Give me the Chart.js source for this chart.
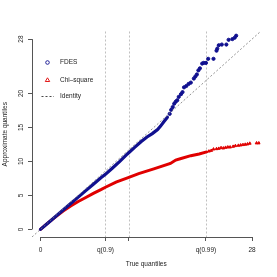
<!DOCTYPE html>
<html>
<head>
<meta charset="utf-8">
<script src="https://cdn.jsdelivr.net/npm/chart.js@4"></script>
<style>
  html, body { margin: 0; padding: 0; background: #fff; }
  canvas { display: block; }
</style>
</head>
<body>
<canvas id="qq" width="277" height="277" style="width:277px;height:277px"></canvas>
<script>
// Axis ticks (true quantiles on x, approximate quantiles on y)
const xTicks = [0, 8.6, 11.7, 21.9, 28];
const xTickLabels = ['0', 'q(0.9)', '', 'q(0.99)', '28'];
const yTicks = [0, 5, 10, 15, 20, 28];
const qLines = [8.6, 11.7, 21.9]; // dashed reference quantiles

// FDES: dense body of the curve + sparse upper tail
const fdesX = [0, 1, 2, 3, 4, 5, 6, 7, 8, 8.6, 9.5, 10.5, 11.5, 12.5, 13.3, 14.1, 14.8, 15.5, 15.9, 16.3, 16.8];
const fdesY = [0, 0.95, 1.9, 2.85, 3.8, 4.75, 5.7, 6.65, 7.6, 8.1, 9.0, 10.0, 11.1, 12.1, 12.9, 13.6, 14.1, 14.7, 15.2, 15.8, 16.5];
const fdesTailX = [17.1, 17.3, 17.5, 17.7, 17.9, 18.1, 18.3, 18.6, 18.8, 19.0, 19.3, 19.6, 19.9, 20.3, 20.5, 20.7, 20.9, 21.1, 21.4, 21.6, 21.9, 22.2, 22.9, 23.3, 23.4, 23.6, 24.0, 24.6, 24.9, 25.4, 25.7, 25.9];
const fdesTailY = [17.0, 17.6, 18.0, 18.5, 18.8, 19.0, 19.5, 19.9, 20.2, 20.9, 21.1, 21.4, 21.6, 22.2, 22.5, 22.8, 23.4, 23.7, 24.4, 24.5, 24.5, 25.1, 25.1, 26.3, 26.6, 27.1, 27.2, 27.2, 27.9, 28.0, 28.2, 28.5];

// Chi-square approximation
const chiX = [0, 1, 2, 3, 4, 5, 6, 7, 8, 8.6, 10, 11.7, 13, 15, 17.2, 17.9, 18.5, 19.9, 21, 22];
const chiY = [0, 0.95, 1.85, 2.7, 3.45, 4.1, 4.7, 5.3, 5.85, 6.2, 6.95, 7.65, 8.2, 8.9, 9.7, 10.2, 10.4, 10.85, 11.1, 11.4];
const chiTailX = [22.3, 22.6, 22.9, 23.3, 23.6, 23.9, 24.2, 24.5, 24.8, 25.1, 25.5, 25.8, 26.2, 26.5, 26.8, 27.1, 27.4, 27.7, 28.6, 28.9];
const chiTailY = [11.5, 11.6, 11.8, 11.85, 11.9, 12.0, 11.95, 12.05, 12.1, 12.1, 12.2, 12.3, 12.35, 12.4, 12.45, 12.5, 12.55, 12.65, 12.7, 12.7];

const BLUE = '#10108f';
const RED = '#e00000';
const FONT = '"Liberation Sans", Arial, sans-serif';

const pts = (xs, ys) => xs.map((x, i) => ({ x: x, y: ys[i] }));

// extras drawn R-style: axis lines, rotated y labels, titles, legend
const rStyle = {
    id: 'rStyle',
    beforeDatasetsDraw(chart) {
        const { ctx, chartArea, scales } = chart;
        ctx.save();
        ctx.strokeStyle = '#b0b0b0';
        ctx.lineWidth = 0.8;
        ctx.setLineDash([2, 2]);
        qLines.forEach(q => {
            const px = Math.round(scales.x.getPixelForValue(q)) + 0.5;
            ctx.beginPath();
            ctx.moveTo(px, chartArea.top);
            ctx.lineTo(px, chartArea.bottom);
            ctx.stroke();
        });
        ctx.restore();
    },
    afterDatasetsDraw(chart) {
        const { ctx, chartArea, scales } = chart;
        ctx.save();
        ctx.beginPath();
        ctx.rect(chartArea.left, chartArea.top, chartArea.right - chartArea.left, chartArea.bottom - chartArea.top);
        ctx.clip();
        ctx.strokeStyle = '#777';
        ctx.lineWidth = 0.8;
        ctx.setLineDash([2, 2]);
        ctx.beginPath();
        ctx.moveTo(scales.x.getPixelForValue(scales.x.min), scales.y.getPixelForValue(scales.x.min));
        ctx.lineTo(scales.x.getPixelForValue(scales.x.max), scales.y.getPixelForValue(scales.x.max));
        ctx.stroke();
        ctx.restore();
    },
    afterDraw(chart) {
        const { ctx, chartArea, scales } = chart;
        ctx.save();
        // axis lines between first and last tick
        ctx.strokeStyle = '#555';
        ctx.lineWidth = 1;
        const yb = Math.round(chartArea.bottom) + 0.5;
        const xl = Math.round(chartArea.left) + 0.5;
        ctx.beginPath();
        ctx.moveTo(scales.x.getPixelForValue(xTicks[0]), yb);
        ctx.lineTo(scales.x.getPixelForValue(xTicks[xTicks.length - 1]), yb);
        ctx.moveTo(xl, scales.y.getPixelForValue(yTicks[0]));
        ctx.lineTo(xl, scales.y.getPixelForValue(yTicks[yTicks.length - 1]));
        ctx.stroke();

        ctx.fillStyle = '#222';
        ctx.font = '6.5px ' + FONT;
        ctx.textAlign = 'center';
        ctx.textBaseline = 'middle';
        // rotated y tick labels
        yTicks.forEach(v => {
            ctx.save();
            ctx.translate(21, scales.y.getPixelForValue(v));
            ctx.rotate(-Math.PI / 2);
            ctx.fillText(String(v), 0, 0);
            ctx.restore();
        });
        // axis titles
        const cx = (chartArea.left + chartArea.right) / 2;
        const cy = (chartArea.top + chartArea.bottom) / 2;
        ctx.fillText('True quantiles', cx, 264);
        ctx.save();
        ctx.translate(5, cy);
        ctx.rotate(-Math.PI / 2);
        ctx.fillText('Approximate quantiles', 0, 0);
        ctx.restore();

        // legend
        ctx.textAlign = 'left';
        ctx.fillText('FDES', 60, 62.5);
        ctx.fillText('Chi\u2013square', 60, 80);
        ctx.fillText('Identity', 60, 96.5);
        ctx.lineWidth = 0.9;
        ctx.strokeStyle = BLUE;
        ctx.beginPath();
        ctx.arc(47.5, 62.5, 1.8, 0, Math.PI * 2);
        ctx.stroke();
        ctx.strokeStyle = RED;
        ctx.beginPath();
        ctx.moveTo(47.5, 77.8);
        ctx.lineTo(49.7, 81.5);
        ctx.lineTo(45.3, 81.5);
        ctx.closePath();
        ctx.stroke();
        ctx.strokeStyle = '#333';
        ctx.setLineDash([2, 2]);
        ctx.beginPath();
        ctx.moveTo(41.5, 96.5);
        ctx.lineTo(54, 96.5);
        ctx.stroke();
        ctx.restore();
    }
};

const qqChart = new Chart(document.getElementById('qq'), {
    type: 'scatter',
    data: {
        datasets: [
            {
                label: 'FDES',
                data: pts(fdesX, fdesY),
                showLine: true,
                borderColor: BLUE,
                borderWidth: 3.2,
                pointRadius: 0,
                borderCapStyle: 'round'
            },
            {
                label: 'FDES tail',
                data: pts(fdesTailX, fdesTailY),
                pointStyle: 'circle',
                pointRadius: 1.6,
                borderWidth: 1,
                borderColor: BLUE,
                backgroundColor: BLUE
            },
            {
                label: 'Chi-square',
                data: pts(chiX, chiY),
                showLine: true,
                borderColor: RED,
                borderWidth: 3,
                pointRadius: 0,
                borderCapStyle: 'round'
            },
            {
                label: 'Chi-square tail',
                data: pts(chiTailX, chiTailY),
                pointStyle: 'triangle',
                pointRadius: 1.6,
                borderWidth: 1,
                borderColor: RED,
                backgroundColor: RED
            }
        ]
    },
    options: {
        responsive: false,
        animation: false,
        layout: { padding: { left: 28, right: 16.5, top: 31.5, bottom: 0 } },
        plugins: {
            legend: { display: false },
            tooltip: { enabled: false }
        },
        scales: {
            x: {
                type: 'linear',
                min: -1.12,
                max: 29.12,
                afterBuildTicks: s => { s.ticks = xTicks.map(v => ({ value: v })); },
                afterFit: s => { s.height = 40; },
                border: { display: false },
                grid: { drawOnChartArea: false, drawTicks: true, tickLength: 4, color: '#555', lineWidth: 1 },
                ticks: {
                    autoSkip: false,
                    maxRotation: 0,
                    padding: 5,
                    color: '#222',
                    font: { size: 6.5, family: FONT },
                    callback: (v, i) => xTickLabels[i]
                }
            },
            y: {
                type: 'linear',
                min: -1.12,
                max: 29.12,
                afterBuildTicks: s => { s.ticks = yTicks.map(v => ({ value: v })); },
                afterFit: s => { s.width = 4; },
                border: { display: false },
                grid: { drawOnChartArea: false, drawTicks: true, tickLength: 4, color: '#555', lineWidth: 1 },
                ticks: { display: false }
            }
        }
    },
    plugins: [rStyle]
});
</script>
</body>
</html>
